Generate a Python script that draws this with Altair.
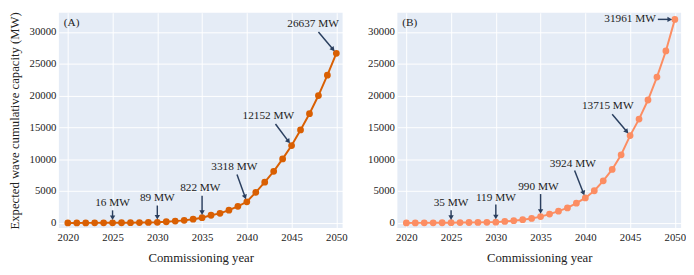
import math
import altair as alt
import pandas as pd

years = list(range(2020, 2051))
cap_a = [0, 1, 3, 6, 10, 16, 25, 36, 50, 68, 89, 180, 280, 400, 580, 822,
         1200, 1500, 2000, 2600, 3318, 4800, 6400, 8100, 10050, 12152,
         14600, 17150, 20000, 23200, 26637]
cap_b = [0, 2, 6, 12, 22, 35, 50, 65, 80, 100, 119, 230, 350, 500, 700, 990,
         1380, 1840, 2350, 3100, 3924, 5050, 6600, 8400, 10700, 13715,
         16300, 19300, 22900, 27000, 31961]

# annotation: target year, label, text position (x, y), arrow tail (x, y)
ann_years = [2025, 2030, 2035, 2040, 2045, 2050]
ann_a_text_x = [2025, 2030, 2034.8, 2038.6, 2042.4, 2047.4]
ann_a_text_y = [3090, 3860, 5450, 8720, 16820, 31300]
ann_a_tail_x = [2025, 2030, 2035, 2038.9, 2043.2, 2048.0]
ann_a_tail_y = [1970, 2730, 4270, 7600, 15530, 29970]

ann_b_text_x = [2025, 2030, 2034.75, 2038.6, 2042.5, 2045.0]
ann_b_text_y = [3150, 3860, 5650, 9290, 18360, 31961]
ann_b_tail_x = [2025, 2030, 2035, 2038.8, 2043.0, 2048.1]
ann_b_tail_y = [2000, 2890, 4530, 8220, 17070, 31961]

X_DOM = [2019.0, 2050.7]
Y_DOM = [-800, 33000]
W, H = 290, 220
SX = W / (X_DOM[1] - X_DOM[0])
SY = H / (Y_DOM[1] - Y_DOM[0])

FONT = "Liberation Serif, Times New Roman, serif"
ARROW = "#2a3f5f"
YTITLE = "Expected wave cumulative capacity (MW)"


def arrows(caps, tx, ty):
    rows = []
    for yr, xt, yt in zip(ann_years, tx, ty):
        xp, yp = yr, caps[years.index(yr)]
        dx = (xp - xt) * SX
        dy = -(yp - yt) * SY
        L = math.hypot(dx, dy)
        ux, uy = dx / L, dy / L
        tip = 3.0
        cen = tip + 3.0
        hx = xp - ux * cen / SX
        hy = yp + uy * cen / SY
        ang = math.degrees(math.atan2(dx, -dy)) % 360
        rows.append(dict(x=xt, y=yt, x2=hx, y2=hy, ang=ang))
    return pd.DataFrame(rows)


def panel(caps, color, tag, text_x, text_y, tail_x, tail_y, show_title):
    xaxis = alt.Axis(values=list(range(2020, 2051, 5)), format="d",
                     title="Commissioning year")
    yaxis = alt.Axis(values=list(range(0, 30001, 5000)), format="d",
                     title=YTITLE if show_title else "")
    xsc = alt.Scale(domain=X_DOM, nice=False, zero=False)
    ysc = alt.Scale(domain=Y_DOM, nice=False, zero=False)

    def X(f):
        return alt.X(f"{f}:Q", scale=xsc, axis=xaxis, title="Commissioning year")

    def Y(f):
        return alt.Y(f"{f}:Q", scale=ysc, axis=yaxis, title=YTITLE if show_title else "")

    df = pd.DataFrame({"year": years, "cap": caps})
    base = alt.Chart(df)
    line = base.mark_line(color=color, strokeWidth=2).encode(x=X("year"), y=Y("cap"))
    pts = base.mark_circle(color=color, size=48, opacity=1).encode(x=X("year"), y=Y("cap"))

    adf = arrows(caps, tail_x, tail_y)
    rule = alt.Chart(adf).mark_rule(color=ARROW, strokeWidth=1.5).encode(
        x=X("x"), y=Y("y"), x2="x2:Q", y2="y2:Q")
    head = alt.Chart(adf).mark_point(shape="triangle", filled=True, color=ARROW,
                                     size=30, opacity=1).encode(
        x=X("x2"), y=Y("y2"), angle=alt.Angle("ang:Q", scale=None))

    labels = [f"{caps[years.index(y)]} MW" for y in ann_years]
    tdf = pd.DataFrame({"x": text_x, "y": text_y, "t": labels})
    txt = alt.Chart(tdf).mark_text(font=FONT, fontSize=11.5, color="#222",
                                   baseline="middle").encode(x=X("x"), y=Y("y"), text="t:N")
    tagm = alt.Chart(pd.DataFrame({"t": [tag]})).mark_text(
        font=FONT, fontSize=11.5, color="#222", align="left", baseline="middle").encode(
        x=alt.value(5), y=alt.value(11), text="t:N")
    return alt.layer(line, pts, rule, head, txt, tagm).properties(width=W, height=H)


left = panel(cap_a, "#d95f02", "(A)", ann_a_text_x, ann_a_text_y,
             ann_a_tail_x, ann_a_tail_y, True)
right = panel(cap_b, "#fc8d62", "(B)", ann_b_text_x, ann_b_text_y,
              ann_b_tail_x, ann_b_tail_y, False)

chart = alt.hconcat(left, right, spacing=20).properties(padding=0).configure_view(
    fill="#e5ecf6", stroke=None
).configure_axis(
    domain=False, ticks=False, grid=True, gridColor="white", gridWidth=1,
    labelFont=FONT, labelFontSize=11, labelColor="#222", labelPadding=3,
    titleFont=FONT, titleFontSize=13, titleFontWeight="normal", titleColor="#222",
).configure_axisY(titlePadding=8).configure_axisX(titlePadding=9, labelPadding=4)

chart.save("out.html", embed_options={"renderer": "svg", "actions": False})
